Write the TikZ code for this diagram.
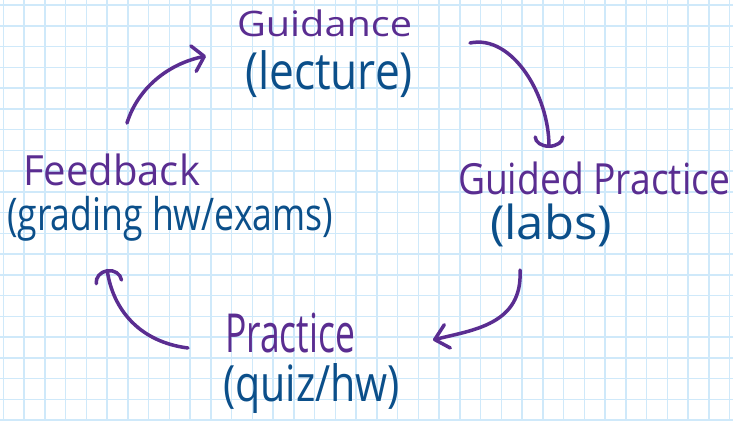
\documentclass[tikz,border=0pt]{standalone}
\usepackage{fontspec}
\usepackage{graphicx}
\newfontfamily\handfont{Open Sans}
\usetikzlibrary{arrows.meta}
\definecolor{gridblue}{HTML}{CFE9FA}
\definecolor{inkpurple}{HTML}{5A2D91}
\definecolor{inkblue}{HTML}{0B4F8A}
\newcommand{\hw}[3]{\resizebox*{#1}{#2}{\handfont #3}}
\begin{document}
\begin{tikzpicture}[x=1pt,y=-1pt,
  lbl/.style={inner sep=0pt, outer sep=0pt, anchor=north west},
  title/.style={lbl, text=inkpurple},
  sub/.style={lbl, text=inkblue},
  gridline/.style={draw=gridblue, line width=1.5pt},
  flow/.style={draw=inkpurple, line width=3.5pt, line cap=round, line join=round}]
\useasboundingbox (0,0) rectangle (733,421);
\fill[white] (0,0) rectangle (733,421);
\foreach \i in {0,...,35} \draw[gridline] ({3.3+20.75*\i},0) -- ++(0,421);
\foreach \j in {0,...,20} \draw[gridline] (0,{5+20.75*\j}) -- ++(733,0);

% texts
\node[title] (guid) at (237,10) {\hw{175pt}{27pt}{Guidance}};
\node[sub] (lect) at (245,51) {\hw{168pt}{47pt}{(lecture)}};
\node[title] (gprac) at (458,162) {\hw{272pt}{33pt}{Guided Practice}};
\node[sub] (labs) at (490,204) {\hw{122pt}{43pt}{(labs)}};
\node[title] (feed) at (23,154) {\hw{177pt}{32pt}{Feedback}};
\node[sub] (grad) at (7,196) {\hw{326pt}{45pt}{(grading hw/exams)}};
\node[title] (prac) at (225,313) {\hw{130pt}{40pt}{Practice}};
\node[sub] (quiz) at (223,363) {\hw{177pt}{50pt}{(quiz/hw)}};

% arrow end points
\coordinate (a1s) at (127,123); \coordinate (a1e) at (206,56);
\coordinate (a2s) at (470,43);  \coordinate (a2e) at (549,148);
\coordinate (a3s) at (520,270); \coordinate (a3e) at (433,340);
\coordinate (a4s) at (188,348); \coordinate (a4e) at (107,269);

\draw[flow, -{Straight Barb[length=11pt,width=26pt,round]}]
  (a1s) .. controls (138,88) and (168,64) .. (a1e);
\draw[flow, -{Arc Barb[length=11pt,width=31pt,round]}]
  (a2s) .. controls (512,34) and (549,95) .. (a2e);
\draw[flow, -{Straight Barb[length=13pt,width=24pt,round]}]
  (a3s) .. controls (523,325) and (472,330) .. (a3e);
\draw[flow, -{Arc Barb[length=13pt,width=29pt,round]}]
  (a4s) .. controls (140,342) and (113,310) .. (a4e);
\end{tikzpicture}
\end{document}
